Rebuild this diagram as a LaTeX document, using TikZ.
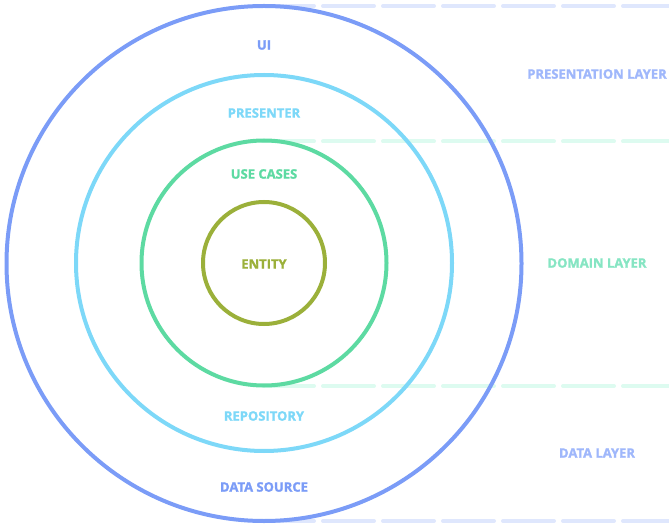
\documentclass[tikz,border=0pt]{standalone}
\usepackage{fontspec}
\setmainfont{Open Sans}[BoldFeatures={FakeBold=1.6}]
\definecolor{cblue}{HTML}{7B9CF7}
\definecolor{ccyan}{HTML}{7DD8F8}
\definecolor{cgreen}{HTML}{5DDAA2}
\definecolor{colive}{HTML}{9BB03A}
\definecolor{dblue}{HTML}{DFE7FD}
\definecolor{dmint}{HTML}{DDFBF0}
\definecolor{lblue}{HTML}{9FB7FB}
\definecolor{lmint}{HTML}{86E5C3}
\begin{document}
\begin{tikzpicture}[x=1pt,y=-1pt,
  ring/.style={draw=#1,line width=4pt,circle,inner sep=0pt},
  sep/.style={draw=#1,line width=4pt,line cap=round,dash pattern=on 51pt off 9pt},
  lbl/.style={font=\bfseries\fontsize{13}{15}\selectfont,text=#1,inner sep=0pt}]
\useasboundingbox (0,0) rectangle (669,529);
\coordinate (a1) at (263,6);   \coordinate (b1) at (669,6);
\coordinate (a2) at (263,141.5); \coordinate (b2) at (669,141.5);
\coordinate (a3) at (263,386); \coordinate (b3) at (669,386);
\coordinate (a4) at (263,521); \coordinate (b4) at (669,521);
\draw[sep=dblue] (a1) -- (b1);
\draw[sep=dmint] (a2) -- (b2);
\draw[sep=dmint] (a3) -- (b3);
\draw[sep=dblue] (a4) -- (b4);
\node[ring=cblue,minimum size=515pt] (outer) at (264,263.5) {};
\node[ring=ccyan,minimum size=376pt] (pres) at (264,263) {};
\node[ring=cgreen,minimum size=245pt] (uc) at (264,263) {};
\node[ring=colive,minimum size=122pt] (ent) at (264,263) {};
\node[lbl=cblue] (ui) at (264,45) {UI};
\node[lbl=ccyan] (presenter) at (264,113) {PRESENTER};
\node[lbl=cgreen] (usecases) at (264,174) {USE CASES};
\node[lbl=colive] (entity) at (264,264) {ENTITY};
\node[lbl=ccyan] (repo) at (264,416) {REPOSITORY};
\node[lbl=cblue] (ds) at (264,487) {DATA SOURCE};
\node[lbl=lblue] (pl) at (597,74) {PRESENTATION LAYER};
\node[lbl=lmint] (dl) at (597,263) {DOMAIN LAYER};
\node[lbl=lblue] (dal) at (597,453) {DATA LAYER};
\end{tikzpicture}
\end{document}
